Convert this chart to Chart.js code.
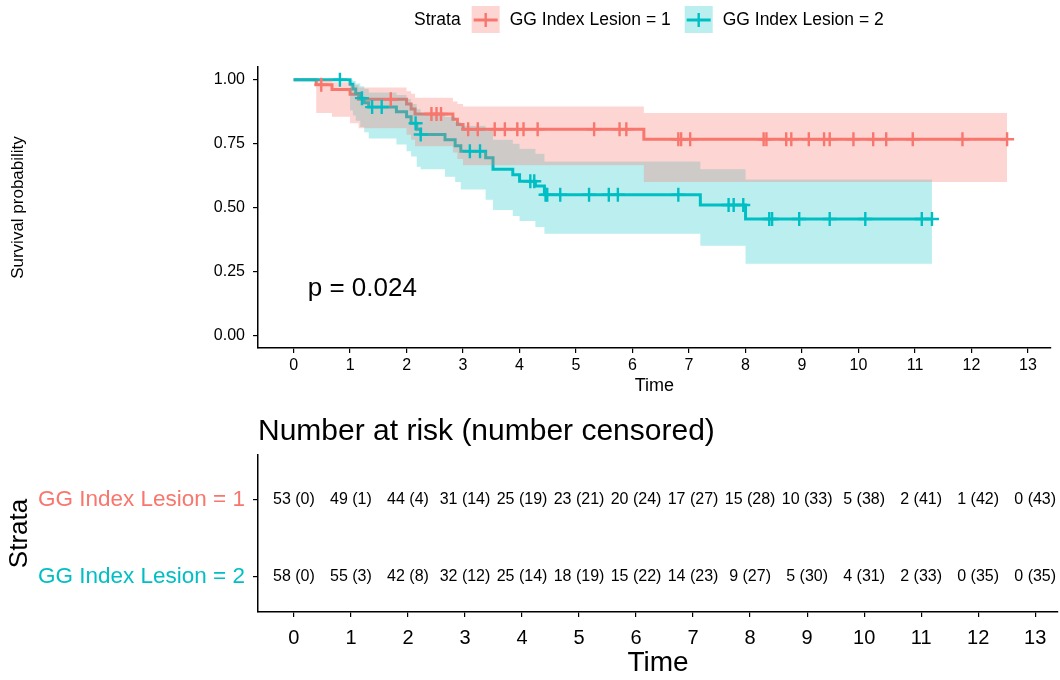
<!DOCTYPE html>
<html>
<head>
<meta charset="utf-8">
<script src="https://cdn.jsdelivr.net/npm/chart.js@4.4.0/dist/chart.umd.min.js"></script>
<style>
  html, body { margin: 0; padding: 0; background: #fff; }
  #wrap { position: relative; width: 1060px; height: 680px; }
  canvas { position: absolute; left: 0; }
  #kmChart { top: 0; }
  #riskChart { top: 400px; }
</style>
</head>
<body>
<div id="wrap">
  <canvas id="kmChart" width="1060" height="400"></canvas>
  <canvas id="riskChart" width="1060" height="280"></canvas>
</div>
<script>
// Strata
const strata = ['GG Index Lesion = 1', 'GG Index Lesion = 2'];

// GG Index Lesion = 1 : step times, survival, confidence band
const time1  = [0, 0.40, 0.68, 1.00, 1.15, 2.00, 2.08, 2.15, 2.82, 2.90, 3.00, 6.20, 12.63];
const surv1  = [1, 0.981, 0.962, 0.943, 0.924, 0.905, 0.886, 0.866, 0.845, 0.825, 0.806, 0.767, 0.767];
const lower1 = [1, 0.870, 0.855, 0.830, 0.810, 0.785, 0.765, 0.740, 0.715, 0.690, 0.665, 0.600, 0.600];
const upper1 = [1, 1.000, 0.990, 0.980, 0.970, 0.955, 0.945, 0.930, 0.915, 0.905, 0.895, 0.870, 0.870];
const censor1 = [0.49, 1.72, 2.44, 2.53, 2.61, 3.09, 3.26, 3.56, 3.74, 3.96, 4.07, 4.32, 5.32, 5.77, 5.89,
                 6.81, 6.86, 7.02, 8.32, 8.37, 8.72, 8.81, 9.12, 9.39, 9.49, 9.91, 10.26, 10.49, 10.96, 11.84, 12.63];

// GG Index Lesion = 2
const time2  = [0, 1.00, 1.05, 1.10, 1.18, 1.25, 1.33, 1.82, 2.00, 2.08, 2.18, 2.25, 2.68, 2.86, 2.96,
                3.40, 3.53, 3.88, 4.00, 4.28, 4.44, 7.20, 8.00, 11.30];
const surv2  = [1, 0.982, 0.964, 0.946, 0.928, 0.910, 0.893, 0.875, 0.855, 0.830, 0.806, 0.786, 0.765, 0.742, 0.720,
                0.695, 0.650, 0.628, 0.603, 0.584, 0.550, 0.510, 0.455, 0.455];
const lower2 = [1, 0.880, 0.860, 0.840, 0.815, 0.795, 0.770, 0.747, 0.720, 0.700, 0.660, 0.650, 0.620, 0.600, 0.570,
                0.530, 0.490, 0.467, 0.447, 0.424, 0.397, 0.350, 0.280, 0.280];
const upper2 = [1, 1.000, 0.995, 0.985, 0.975, 0.965, 0.950, 0.940, 0.925, 0.905, 0.885, 0.870, 0.855, 0.835, 0.820,
                0.800, 0.765, 0.750, 0.730, 0.710, 0.680, 0.650, 0.610, 0.610];
const censor2 = [0.82, 1.21, 1.39, 1.56, 2.16, 2.25, 3.12, 3.30, 4.19, 4.26, 4.46, 4.49, 4.72, 5.23, 5.58, 5.74,
                 6.81, 7.70, 7.79, 7.96, 8.42, 8.47, 8.95, 9.49, 10.12, 11.12, 11.30];

// Axis ticks
const timeTicks = [0, 1, 2, 3, 4, 5, 6, 7, 8, 9, 10, 11, 12, 13];
const survTicks = [0, 0.25, 0.5, 0.75, 1];

// Number at risk (number censored)
const riskTimes = [0, 1, 2, 3, 4, 5, 6, 7, 8, 9, 10, 11, 12, 13];
const risk1 = [53, 49, 44, 31, 25, 23, 20, 17, 15, 10, 5, 2, 1, 0];
const cens1 = [0, 1, 4, 14, 19, 21, 24, 27, 28, 33, 38, 41, 42, 43];
const risk2 = [58, 55, 42, 32, 25, 18, 15, 14, 9, 5, 4, 2, 0, 0];
const cens2 = [0, 3, 8, 12, 14, 19, 22, 23, 27, 30, 31, 33, 35, 35];

const pText = 'p = 0.024';

const RED = '#F8766D', CYAN = '#00BFC4';
const RED_BAND = 'rgba(248,118,109,0.3)', CYAN_BAND = 'rgba(0,191,196,0.27)';
const FONT = '"Liberation Sans", Arial, Helvetica, sans-serif';

Chart.defaults.font.family = FONT;
Chart.defaults.color = '#000';

function pts(xs, ys) { return xs.map((x, i) => ({ x: x, y: ys[i] })); }
function stepAt(times, values, t) {
  let v = values[0];
  for (let i = 0; i < times.length; i++) if (times[i] <= t) v = values[i];
  return v;
}

function lineSet(label, xs, ys, color, order) {
  return { type: 'line', label: label, data: pts(xs, ys), stepped: 'before', borderColor: color,
           borderWidth: 3, pointRadius: 0, fill: false, order: order };
}
function bandSets(xs, lo, hi, color, order) {
  return [
    { type: 'line', data: pts(xs, hi), stepped: 'before', borderWidth: 0, pointRadius: 0,
      backgroundColor: color, fill: '+1', order: order },
    { type: 'line', data: pts(xs, lo), stepped: 'before', borderWidth: 0, pointRadius: 0,
      fill: false, order: order }
  ];
}
function censorSet(ct, xs, ys, color, order) {
  return { type: 'scatter', data: ct.map(t => ({ x: t, y: stepAt(xs, ys, t) })), pointStyle: 'cross',
           pointRadius: 7, borderWidth: 2.4, borderColor: color, backgroundColor: color, order: order };
}

const kmDatasets = [
  lineSet(strata[0], time1, surv1, RED, 6),
  lineSet(strata[1], time2, surv2, CYAN, 5),
  ...bandSets(time2, lower2, upper2, CYAN_BAND, 4),
  ...bandSets(time1, lower1, upper1, RED_BAND, 3),
  censorSet(censor1, time1, surv1, RED, 2),
  censorSet(censor2, time2, surv2, CYAN, 1)
];

// legend + p value
const kmExtras = {
  id: 'kmExtras',
  afterDraw(chart) {
    const ctx = chart.ctx;
    ctx.save();
    ctx.fillStyle = '#000';
    ctx.textBaseline = 'middle';
    ctx.textAlign = 'left';
    ctx.font = '17.5px ' + FONT;
    let x = 414;
    const ly = 20;
    ctx.fillText('Strata', x, ly);
    x += ctx.measureText('Strata').width + 11;
    [[RED, RED_BAND, strata[0]], [CYAN, CYAN_BAND, strata[1]]].forEach(([c, b, t]) => {
      ctx.fillStyle = b;
      ctx.fillRect(x, 6, 28, 27);
      ctx.strokeStyle = c;
      ctx.lineWidth = 3;
      ctx.beginPath(); ctx.moveTo(x + 2, ly); ctx.lineTo(x + 26, ly); ctx.stroke();
      ctx.lineWidth = 2.4;
      ctx.beginPath(); ctx.moveTo(x + 14, ly - 7); ctx.lineTo(x + 14, ly + 7); ctx.stroke();
      x += 38;
      ctx.fillStyle = '#000';
      ctx.fillText(t, x, ly);
      x += ctx.measureText(t).width + 14;
    });
    // p value
    const xs = chart.scales.x, ys = chart.scales.y;
    ctx.font = '26px ' + FONT;
    ctx.fillText(pText, xs.getPixelForValue(0.25), ys.getPixelForValue(0.18));
    ctx.restore();
  }
};

const axisGrid = { drawOnChartArea: false, drawTicks: true, tickLength: 5, color: '#000', lineWidth: 1.2 };
const axisBorder = { display: true, color: '#000', width: 1.5 };

new Chart(document.getElementById('kmChart'), {
  type: 'line',
  data: { datasets: kmDatasets },
  options: {
    responsive: false,
    animation: false,
    events: [],
    layout: { padding: { top: 67, right: 2, left: 0, bottom: 0 } },
    plugins: { legend: { display: false }, tooltip: { enabled: false } },
    scales: {
      x: {
        type: 'linear', min: -0.63, max: 13.4,
        afterBuildTicks: s => { s.ticks = timeTicks.map(v => ({ value: v })); },
        afterFit: s => { s.height = 52; },
        ticks: { font: { size: 16 }, color: '#000', padding: 3 },
        grid: axisGrid, border: axisBorder,
        title: { display: true, text: 'Time', font: { size: 18 }, color: '#000', padding: { top: 0, bottom: 3 } }
      },
      y: {
        type: 'linear', min: -0.05, max: 1.05,
        afterBuildTicks: s => { s.ticks = survTicks.map(v => ({ value: v })); },
        afterFit: s => { s.width = 258; },
        ticks: { font: { size: 16 }, color: '#000', padding: 8, callback: v => v.toFixed(2) },
        grid: axisGrid, border: axisBorder,
        title: { display: true, text: 'Survival probability', font: { size: 17 }, color: '#000', padding: { top: 8, bottom: 0 } }
      }
    }
  },
  plugins: [kmExtras]
});

// risk table
const riskLabels = {
  id: 'riskLabels',
  afterDraw(chart) {
    const ctx = chart.ctx;
    ctx.save();
    ctx.fillStyle = '#000';
    ctx.textBaseline = 'middle';
    ctx.textAlign = 'left';
    ctx.font = '30px ' + FONT;
    ctx.fillText('Number at risk (number censored)', chart.chartArea.left, 32);
    ctx.font = '16px ' + FONT;
    ctx.textAlign = 'center';
    [[risk1, cens1], [risk2, cens2]].forEach(([r, c], di) => {
      chart.getDatasetMeta(di).data.forEach((el, i) => {
        ctx.fillText(r[i] + ' (' + c[i] + ')', el.x, el.y);
      });
    });
    ctx.restore();
  }
};

new Chart(document.getElementById('riskChart'), {
  type: 'scatter',
  data: {
    datasets: [
      { data: riskTimes.map(t => ({ x: t, y: 2 })), pointRadius: 0 },
      { data: riskTimes.map(t => ({ x: t, y: 1 })), pointRadius: 0 }
    ]
  },
  options: {
    responsive: false,
    animation: false,
    events: [],
    layout: { padding: { top: 55, right: 2, left: 0, bottom: 0 } },
    plugins: { legend: { display: false }, tooltip: { enabled: false } },
    scales: {
      x: {
        type: 'linear', min: -0.63, max: 13.4,
        afterBuildTicks: s => { s.ticks = timeTicks.map(v => ({ value: v })); },
        afterFit: s => { s.height = 68; },
        ticks: { font: { size: 20 }, color: '#000', padding: 9 },
        grid: axisGrid, border: axisBorder,
        title: { display: true, text: 'Time', font: { size: 28 }, color: '#000', padding: { top: 0, bottom: 0 } }
      },
      y: {
        type: 'linear', min: 0.545, max: 2.58,
        afterBuildTicks: s => { s.ticks = [{ value: 2 }, { value: 1 }]; },
        afterFit: s => { s.width = 258; },
        ticks: {
          font: { size: 22.5 }, padding: 8,
          color: c => (c.tick && c.tick.value === 2 ? RED : CYAN),
          callback: v => (v === 2 ? strata[0] : strata[1])
        },
        grid: axisGrid, border: axisBorder,
        title: { display: true, text: 'Strata', font: { size: 26 }, color: '#000', padding: { top: 4, bottom: 0 } }
      }
    }
  },
  plugins: [riskLabels]
});
</script>
</body>
</html>
